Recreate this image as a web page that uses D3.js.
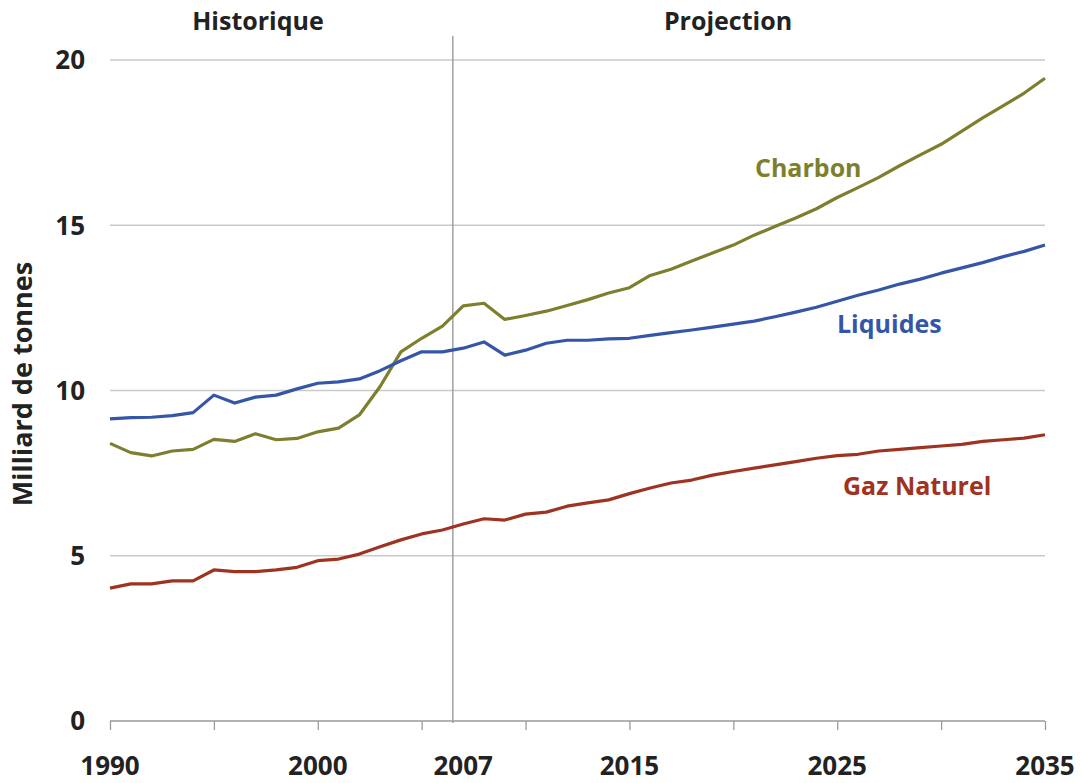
<!DOCTYPE html>
<html>
<head>
<meta charset="utf-8">
<script src="https://cdn.jsdelivr.net/npm/d3@7"></script>
<style>
  body { margin: 0; background: #fff; }
  text { font-family: "Open Sans", sans-serif; font-weight: 700; }
</style>
</head>
<body>
<div id="chart"></div>
<script>
// data (billion tonnes CO2)
var years = d3.range(1990, 2036);
var charbon = [8.40, 8.12, 8.02, 8.17, 8.22, 8.52, 8.46, 8.69, 8.51, 8.55,
  8.75, 8.86, 9.26, 10.12, 11.17, 11.58, 11.95, 12.56, 12.64, 12.15,
  12.27, 12.40, 12.57, 12.75, 12.95, 13.11, 13.48, 13.67, 13.92, 14.16,
  14.40, 14.70, 14.96, 15.22, 15.50, 15.84, 16.14, 16.45, 16.80, 17.13,
  17.45, 17.85, 18.25, 18.62, 19.00, 19.45];
var liquides = [9.14, 9.18, 9.19, 9.24, 9.33, 9.86, 9.62, 9.80, 9.86, 10.05,
  10.22, 10.26, 10.35, 10.60, 10.90, 11.17, 11.17, 11.28, 11.47, 11.07,
  11.22, 11.43, 11.52, 11.52, 11.56, 11.58, 11.67, 11.75, 11.83, 11.92,
  12.01, 12.10, 12.23, 12.37, 12.52, 12.70, 12.88, 13.04, 13.22, 13.37,
  13.55, 13.71, 13.87, 14.05, 14.21, 14.40];
var gaz = [4.02, 4.15, 4.15, 4.24, 4.24, 4.57, 4.52, 4.52, 4.57, 4.65,
  4.85, 4.90, 5.05, 5.27, 5.48, 5.66, 5.78, 5.96, 6.12, 6.08,
  6.26, 6.32, 6.50, 6.60, 6.69, 6.88, 7.05, 7.20, 7.29, 7.44,
  7.55, 7.65, 7.75, 7.85, 7.95, 8.03, 8.07, 8.17, 8.22, 8.27,
  8.32, 8.37, 8.46, 8.51, 8.56, 8.66];
var tickYears = d3.range(1990, 2036, 5);
var labelYears = [1990, 2000, 2007, 2015, 2025, 2035];
var yTicks = [0, 5, 10, 15, 20];
var dividerYear = 2006.5;

var series = [
  {name: "Charbon", values: charbon, color: "#7d7f2e", lx: 755, ly: 177},
  {name: "Liquides", values: liquides, color: "#3556a8", lx: 837, ly: 333},
  {name: "Gaz Naturel", values: gaz, color: "#9e3321", lx: 843, ly: 495}
];

var fullWidth = 1082, fullHeight = 783;
var x = d3.scaleLinear().domain([1990, 2035]).range([110, 1045]);
var y = d3.scaleLinear().domain([0, 20]).range([721, 60]);

var svg = d3.select("#chart").append("svg")
  .attr("width", fullWidth)
  .attr("height", fullHeight);

// gridlines
svg.append("g").selectAll("line")
  .data(yTicks.filter(function(d){ return d > 0; }))
  .enter().append("line")
  .attr("x1", x(1990)).attr("x2", x(2035))
  .attr("y1", function(d){ return y(d); })
  .attr("y2", function(d){ return y(d); })
  .attr("stroke", "#c9c9c9")
  .attr("stroke-width", 1.3);

// y labels
svg.append("g").selectAll("text")
  .data(yTicks)
  .enter().append("text")
  .attr("x", 85)
  .attr("y", function(d){ return y(d); })
  .attr("dy", "0.36em")
  .attr("text-anchor", "end")
  .style("font-size", "26px")
  .attr("fill", "#222")
  .text(function(d){ return d; });

// x axis
var xAxis = d3.axisBottom(x)
  .tickValues(tickYears)
  .tickSize(9)
  .tickFormat("");
var gx = svg.append("g")
  .attr("transform", "translate(0," + y(0) + ")")
  .call(xAxis);
gx.select(".domain").attr("stroke", "#9a9a9a").attr("stroke-width", 1.3).attr("d", "M" + x(1990) + ",0H" + x(2035));
gx.selectAll(".tick line").attr("stroke", "#9a9a9a").attr("stroke-width", 1.3);

svg.append("g").selectAll("text")
  .data(labelYears)
  .enter().append("text")
  .attr("x", function(d){ return x(d); })
  .attr("y", 775)
  .attr("text-anchor", "middle")
  .style("font-size", "26px")
  .attr("fill", "#222")
  .text(function(d){ return d; });

// divider historique / projection
svg.append("line")
  .attr("x1", x(dividerYear)).attr("x2", x(dividerYear))
  .attr("y1", 36).attr("y2", y(0) + 2)
  .attr("stroke", "#a0a0a0")
  .attr("stroke-width", 1.5);

svg.append("text")
  .attr("x", 258).attr("y", 30)
  .attr("text-anchor", "middle")
  .style("font-size", "25px")
  .attr("fill", "#222")
  .text("Historique");
svg.append("text")
  .attr("x", 728).attr("y", 30)
  .attr("text-anchor", "middle")
  .style("font-size", "25px")
  .attr("fill", "#222")
  .text("Projection");

// y axis title
svg.append("text")
  .attr("transform", "translate(32,384) rotate(-90)")
  .attr("text-anchor", "middle")
  .style("font-size", "27px")
  .attr("fill", "#222")
  .text("Milliard de tonnes");

// lines
var line = d3.line()
  .x(function(d, i){ return x(years[i]); })
  .y(function(d){ return y(d); });

svg.append("g").selectAll("path")
  .data(series)
  .enter().append("path")
  .attr("d", function(d){ return line(d.values); })
  .attr("fill", "none")
  .attr("stroke", function(d){ return d.color; })
  .attr("stroke-width", 3.2)
  .attr("stroke-linejoin", "round");

svg.append("g").selectAll("text")
  .data(series)
  .enter().append("text")
  .attr("x", function(d){ return d.lx; })
  .attr("y", function(d){ return d.ly; })
  .style("font-size", "25px")
  .attr("fill", function(d){ return d.color; })
  .text(function(d){ return d.name; });
</script>
</body>
</html>
